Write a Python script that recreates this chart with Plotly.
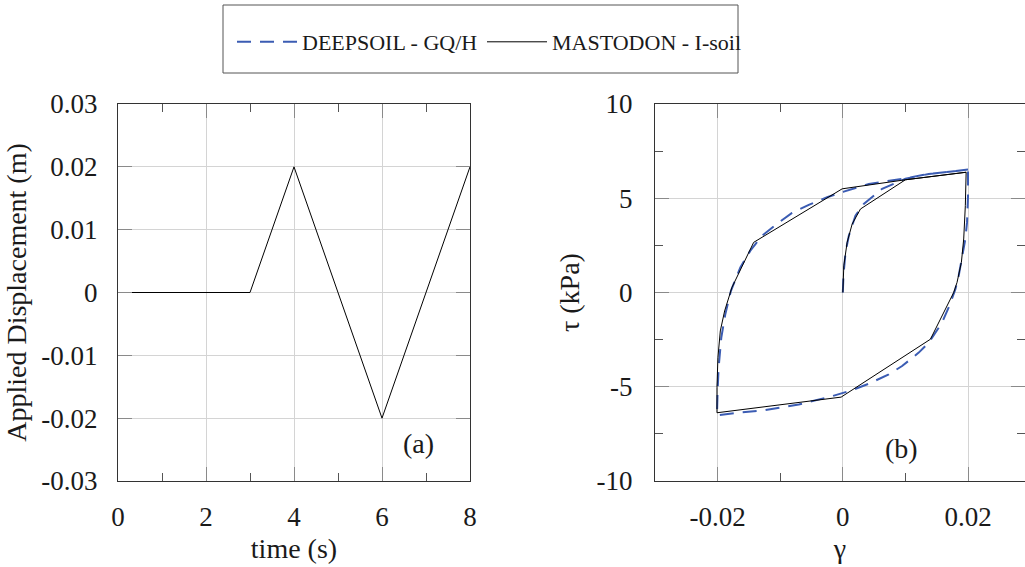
import plotly.graph_objects as go

# ---- data ----
time_s = [0, 3, 4, 6, 8]
disp_m = [0, 0, 0.02, -0.02, 0.02]

gamma_mastodon = [0, 0.00016, 0.00069, 0.00149, 0.00282, 0.0100, 0.0197, 0.01957, 0.01931,
                  0.01894, 0.01824, 0.01771, 0.01399, -0.00027, -0.0201, -0.0201, -0.01995,
                  -0.01957, -0.01888, -0.01797, -0.01771, -0.01424, -0.0001, 0.0100, 0.0197]
tau_mastodon = [0, 1.42, 2.66, 3.63, 4.43, 5.98, 6.38, 4.61, 2.84, 1.60, 0.53, 0.0, -2.48,
                -5.55, -6.38, -5.05, -3.46, -2.04, -0.98, 0.0, 0.27, 2.66, 5.50, 5.98, 6.38]

gamma_deepsoil = [0, 0.0001, 0.00043, 0.00096, 0.00202, 0.00335, 0.00628, 0.0100, 0.01372, 0.0200,
                  0.0200, 0.01984, 0.01957, 0.01904, 0.01851, 0.01798, 0.01702, 0.01585, 0.01372,
                  0.01213, 0.00947, 0.00734, 0.00415, 0.00149, -0.0017, -0.00704, -0.01237,
                  -0.01664, -0.0201, -0.0200, -0.01984, -0.01941, -0.01877, -0.01787, -0.01637,
                  -0.01477, -0.01291, -0.01077, -0.00811, -0.00544, -0.00251, 0.00016, 0.00415,
                  0.0100, 0.01372, 0.0200]
tau_deepsoil = [0, 0.89, 2.13, 3.01, 4.08, 4.70, 5.50, 6.03, 6.29, 6.52, 5.14, 3.72, 2.84, 1.77,
                0.89, 0.18, -0.71, -1.60, -2.66, -3.19, -3.90, -4.34, -4.84, -5.18, -5.50, -5.94,
                -6.24, -6.38, -6.51, -5.23, -3.99, -2.39, -1.15, 0.09, 1.33, 2.22, 3.01, 3.58,
                4.22, 4.65, 5.05, 5.35, 5.76, 6.06, 6.29, 6.52]

series_names = ["DEEPSOIL - GQ/H", "MASTODON - I-soil"]
panel_labels = ["(a)", "(b)"]

disp_tickvals = [-0.03, -0.02, -0.01, 0, 0.01, 0.02, 0.03]
disp_ticktext = ["-0.03", "-0.02", "-0.01", "0", "0.01", "0.02", "0.03"]
time_tickvals = [0, 2, 4, 6, 8]
time_ticktext = ["0", "2", "4", "6", "8"]
gamma_tickvals = [-0.02, 0, 0.02]
gamma_ticktext = ["-0.02", "0", "0.02"]
tau_tickvals = [-10, -5, 0, 5, 10]
tau_ticktext = ["-10", "-5", "0", "5", "10"]

W, H = 1025, 567
FONT = "Liberation Serif"
TXT = "#1a1a1a"
BLUE = "#3b5cb3"

fig = go.Figure()

fig.add_trace(go.Scatter(x=time_s, y=disp_m, mode="lines", line=dict(color="black", width=1),
                         showlegend=False, xaxis="x", yaxis="y"))
fig.add_trace(go.Scatter(x=gamma_deepsoil, y=tau_deepsoil, mode="lines", name=series_names[0],
                         line=dict(color=BLUE, width=2, dash="14px,9px"), xaxis="x2", yaxis="y2",
                         legend="legend"))
fig.add_trace(go.Scatter(x=gamma_mastodon, y=tau_mastodon, mode="lines", name=series_names[1],
                         line=dict(color="black", width=1), xaxis="x2", yaxis="y2",
                         legend="legend2"))

def px_x(p):
    return p / W

def px_y(p):
    return 1 - p / H

common = dict(showline=True, linecolor="#333333", linewidth=1, mirror="ticks",
              showgrid=True, gridcolor="#d4d4d4", gridwidth=1, zeroline=False,
              automargin=False, tickmode="array",
              ticks="inside", ticklen=14, tickcolor="#8a8a8a", tickwidth=1,
              tickfont=dict(family=FONT, size=27, color=TXT),
              title_font=dict(family=FONT, size=28, color=TXT))
minor_common = dict(ticks="inside", ticklen=8, tickcolor="#555555", showgrid=False)

ydom = [px_y(481), px_y(104)]

legend_common = dict(orientation="h", xanchor="left", yanchor="middle",
                     bgcolor="rgba(0,0,0,0)", borderwidth=0, itemwidth=60,
                     font=dict(family=FONT, size=22, color=TXT))

fig.update_layout(
    width=W, height=H, margin=dict(l=0, r=0, t=0, b=0, autoexpand=False),
    paper_bgcolor="white", plot_bgcolor="white",
    font=dict(family=FONT, color=TXT),
    xaxis=dict(domain=[px_x(118), px_x(470)], range=[0, 8],
               tickvals=time_tickvals, ticktext=time_ticktext,
               minor=dict(tickmode="linear", tick0=0, dtick=1, **minor_common),
               title=dict(text="time (s)", standoff=6),
               ticklabelstandoff=12, anchor="y", **common),
    yaxis=dict(domain=ydom, range=[-0.03, 0.03],
               tickvals=disp_tickvals, ticktext=disp_ticktext,
               title=dict(text="Applied Displacement (m)", standoff=6),
               ticklabelstandoff=14, anchor="x", **common),
    xaxis2=dict(domain=[px_x(655), 1.0], range=[-0.03, 0.0291],
                tickvals=gamma_tickvals, ticktext=gamma_ticktext,
                minor=dict(tickmode="linear", tick0=0, dtick=0.01, **minor_common),
                title=dict(text="γ", standoff=6), ticklabelstandoff=12, anchor="y2", **common),
    yaxis2=dict(domain=ydom, range=[-10, 10],
                tickvals=tau_tickvals, ticktext=tau_ticktext,
                minor=dict(tickmode="linear", tick0=0, dtick=2.5, **minor_common),
                title=dict(text="τ (kPa)", standoff=8), ticklabelstandoff=16,
                anchor="x2", **common),
    showlegend=True,
    legend=dict(x=px_x(232), y=px_y(42), **legend_common),
    legend2=dict(x=px_x(482), y=px_y(42), **legend_common),
    shapes=[dict(type="rect", xref="paper", yref="paper", x0=px_x(223), x1=px_x(738),
                 y0=px_y(73), y1=px_y(5), line=dict(color="#555555", width=1))],
    annotations=[
        dict(text=panel_labels[0], x=6.84, y=-0.0241, xref="x", yref="y", showarrow=False,
             font=dict(family=FONT, size=28, color=TXT)),
        dict(text=panel_labels[1], x=0.0093, y=-8.3, xref="x2", yref="y2", showarrow=False,
             font=dict(family=FONT, size=28, color=TXT)),
    ],
)

fig.write_html("out.html")
